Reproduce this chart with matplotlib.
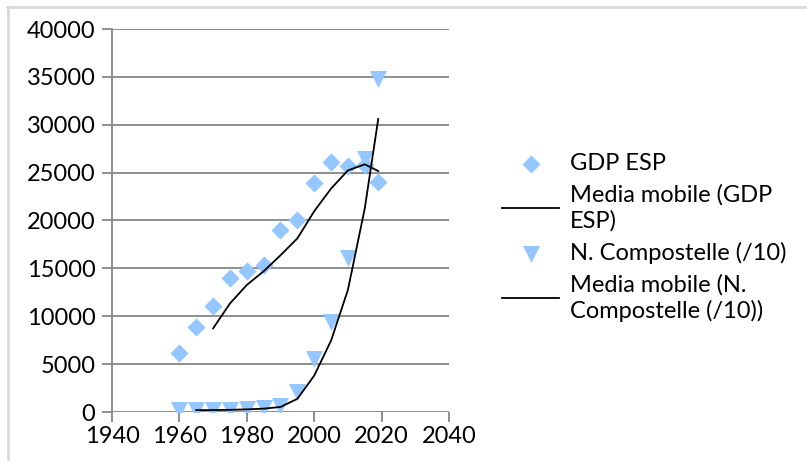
import matplotlib.pyplot as plt
import numpy as np
from matplotlib.lines import Line2D

plt.rcParams['font.family'] = ['Lato', 'DejaVu Sans']

years = [1960, 1965, 1970, 1975, 1980, 1985, 1990, 1995, 2000, 2005, 2010, 2015, 2019]
gdp_esp = [6200, 8900, 11100, 14000, 14700, 15400, 19000, 20000, 23900, 26100, 25700, 25800, 24000]
compostelle = [200, 200, 200, 250, 300, 400, 650, 2100, 5500, 9400, 16100, 26400, 34800]

def moving_avg(vals, period):
    v = np.array(vals, dtype=float)
    return np.convolve(v, np.ones(period) / period, mode='valid')

gdp_ma = moving_avg(gdp_esp, 3)
comp_ma = moving_avg(compostelle, 2)

blue = '#94C6FF'
grid_col = '#868686'

fig = plt.figure(figsize=(8.07, 4.61), dpi=100)

# chart frame (only top and left visible)
fig.add_artist(Line2D([7/807, 1], [1 - 7/461, 1 - 7/461], color='#d9d9d9', lw=2, transform=fig.transFigure))
fig.add_artist(Line2D([8/807, 8/807], [0, 1 - 7/461], color='#d9d9d9', lw=2, transform=fig.transFigure))

ax = fig.add_axes([112/807, 49/461, 337/807, 383/461])
ax.scatter(years, gdp_esp, marker='D', s=85, color=blue, zorder=3, label='GDP ESP', linewidths=0)
ax.plot(years[2:], gdp_ma, color='black', lw=1.3, zorder=4, label='Media mobile (GDP\nESP)')
ax.scatter(years, compostelle, marker='v', s=150, color=blue, zorder=3, label='N. Compostelle (/10)', linewidths=0)
ax.plot(years[1:], comp_ma, color='black', lw=1.3, zorder=4, label='Media mobile (N.\nCompostelle (/10))')

ax.set_xlim(1940, 2040)
ax.set_ylim(0, 40000)
ax.set_xticks(range(1940, 2041, 20))
ax.set_yticks(range(0, 40001, 5000))
ax.yaxis.grid(True, color=grid_col, lw=1.3)
ax.set_axisbelow(True)
for s in ['top', 'right', 'bottom']:
    ax.spines[s].set_visible(False)
ax.spines['left'].set_color(grid_col)
ax.spines['left'].set_linewidth(1.3)
ax.tick_params(axis='both', colors=grid_col, labelcolor='black', labelsize=17, length=7, width=1.3)
ax.tick_params(axis='x', pad=3)
ax.tick_params(axis='y', pad=5)

leg = fig.legend(loc='upper left', bbox_to_anchor=(493/807, 1 - 144/461), frameon=False,
                 fontsize=17, handlelength=2.4, handletextpad=0.45, labelspacing=0.42,
                 borderaxespad=0)
for t in leg.get_texts():
    t.set_linespacing(1.25)

fig.savefig('out.png', dpi=100)
